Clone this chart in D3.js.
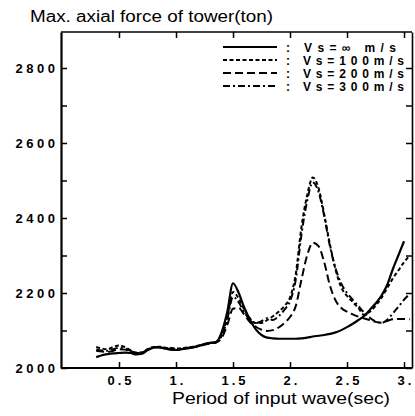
<!DOCTYPE html>
<html>
<head>
<meta charset="utf-8">
<script src="https://cdn.jsdelivr.net/npm/d3@7"></script>
<style>
  body { margin: 0; background: #fff; }
  svg { display: block; font-family: "Liberation Sans", Arial, sans-serif; }
</style>
</head>
<body>
<svg id="viz_area" width="415" height="416"></svg>
<script>
// period of input wave (sec)
const periods = [0.3,0.35,0.4,0.45,0.5,0.55,0.6,0.65,0.7,0.75,0.8,0.85,0.9,0.95,1.0,1.05,1.1,1.15,1.2,1.25,1.3,1.35,1.4,1.45,1.5,1.55,1.6,1.65,1.7,1.75,1.8,1.85,1.9,1.95,2.0,2.05,2.1,2.15,2.2,2.25,2.3,2.35,2.4,2.45,2.5,2.55,2.6,2.65,2.7,2.75,2.8,2.85,2.9,2.95,3.0,3.05];

// max axial force (ton) for each Vs
const vsInf = [2029,2034,2037,2039,2040,2041,2040,2036,2038,2047,2054,2056,2052,2049,2048,2050,2052,2055,2059,2064,2067,2069,2095,2150,2226,2200,2160,2128,2103,2088,2081,2079,2078,2078,2078,2078,2079,2081,2084,2086,2088,2091,2095,2101,2109,2118,2128,2139,2155,2172,2192,2220,2262,2300,2338,null];
const vs100 = [2056,2052,2050,2056,2060,2056,2048,2041,2042,2050,2056,2055,2053,2054,2052,2053,2055,2057,2060,2064,2067,2069,2088,2135,2203,2185,2155,2132,2120,2120,2128,2138,2150,2165,2188,2250,2375,2460,2508,2480,2410,2330,2262,2215,2192,2176,2160,2142,2150,2166,2186,2212,2238,2260,2282,2300];
const vs200 = [2046,2044,2043,2046,2050,2049,2044,2040,2041,2049,2055,2055,2052,2050,2049,2051,2053,2055,2058,2062,2066,2068,2080,2115,2158,2160,2142,2122,2110,2102,2099,2101,2108,2120,2136,2165,2235,2300,2334,2325,2282,2220,2180,2160,2150,2143,2137,2132,2128,2123,2121,2125,2130,2131,2131,2130];
const vs300 = [2049,2047,2046,2050,2054,2052,2046,2041,2040,2048,2055,2057,2055,2052,2050,2051,2054,2056,2059,2063,2066,2068,2085,2130,2190,2175,2148,2128,2120,2125,2133,2128,2138,2155,2178,2235,2355,2445,2495,2470,2405,2325,2265,2225,2200,2182,2165,2148,2134,2124,2120,2128,2145,2163,2182,2198];

const legendLabels = [": Vs=\u221e m/s", ": Vs=100m/s", ": Vs=200m/s", ": Vs=300m/s"];
const xTicks = [0.5, 1, 1.5, 2, 2.5, 3];
const xTickLabels = ["0.5", "1.", "1.5", "2.", "2.5", "3."];
const yTicks = [2000,2100,2200,2300,2400,2500,2600,2700,2800];

const series = [
  {values: vsInf, dash: null, width: 2.2},
  {values: vs100, dash: "4,2.5", width: 2},
  {values: vs200, dash: "8,4", width: 2},
  {values: vs300, dash: "7,3,2,3", width: 2}
];

const svg = d3.select("#viz_area");
svg.append("rect").attr("width", 415).attr("height", 416).attr("fill", "#fff");

const frameL = 61, frameR = 412, frameT = 32, frameB = 368;
const x = d3.scaleLinear().domain([0, 3.07]).range([62, frameR]);
const y = d3.scaleLinear().domain([2000, 2896]).range([frameB, frameT]);

// frame + ticks (all pointing inward)
const gl = svg.append("g").attr("transform", "translate(" + frameL + ",0)")
  .call(d3.axisLeft(y).tickValues(yTicks).tickSize(-6).tickSizeOuter(0).tickPadding(6)
    .tickFormat(d => d % 200 === 0 ? d : ""));
gl.select(".domain").attr("stroke-width", 2.2);
gl.selectAll(".tick line").attr("stroke-width", 1.5);
gl.selectAll("text").attr("font-size", 13).attr("font-weight", "bold")
  .attr("letter-spacing", "3.5px").attr("fill", "#000").attr("dx", "3.5px");

const gr = svg.append("g").attr("transform", "translate(" + frameR + ",0)")
  .call(d3.axisRight(y).tickValues(yTicks).tickSize(-6).tickSizeOuter(0).tickFormat(""));
gr.select(".domain").attr("stroke-width", 1.6);
gr.selectAll(".tick line").attr("stroke-width", 1.5);

const gt = svg.append("g").attr("transform", "translate(0," + frameT + ")")
  .call(d3.axisTop(x).tickValues(xTicks).tickSize(-6).tickSizeOuter(0).tickFormat(""));
gt.select(".domain").attr("stroke-width", 1.6).attr("d", "M" + frameL + ",0H" + frameR);
gt.selectAll(".tick line").attr("stroke-width", 1.5);

const gb = svg.append("g").attr("transform", "translate(0," + frameB + ")")
  .call(d3.axisBottom(x).tickValues(xTicks).tickSize(-6).tickSizeOuter(0).tickPadding(8)
    .tickFormat((d, i) => xTickLabels[i]));
gb.select(".domain").attr("stroke-width", 2.2).attr("d", "M" + frameL + ",0H" + frameR);
gb.selectAll(".tick line").attr("stroke-width", 1.5);
gb.selectAll("text").attr("font-size", 13).attr("font-weight", "bold")
  .attr("letter-spacing", "3px").attr("fill", "#000").attr("dx", "1.5px");

// curves
const line = d3.line()
  .defined(d => d[1] !== null)
  .x(d => x(d[0]))
  .y(d => y(d[1]))
  .curve(d3.curveMonotoneX);

series.forEach(s => {
  svg.append("path")
    .datum(periods.map((p, i) => [p, s.values[i]]))
    .attr("fill", "none")
    .attr("stroke", "#000")
    .attr("stroke-width", s.width)
    .attr("stroke-dasharray", s.dash)
    .attr("d", line);
});

// legend
const legendRows = [47, 60, 73, 86];
series.forEach((s, i) => {
  svg.append("line")
    .attr("x1", 223).attr("x2", 277)
    .attr("y1", legendRows[i]).attr("y2", legendRows[i])
    .attr("stroke", "#000").attr("stroke-width", s.width)
    .attr("stroke-dasharray", s.dash);
  svg.append("text")
    .attr("x", 286).attr("y", legendRows[i] + 4.5)
    .attr("font-size", 12).attr("font-weight", "bold")
    .attr("textLength", i === 0 ? 110 : 118).attr("lengthAdjust", "spacing")
    .text(legendLabels[i]);
});

// titles
svg.append("text")
  .attr("x", 30).attr("y", 22)
  .attr("font-size", 16)
  .attr("textLength", 243).attr("lengthAdjust", "spacingAndGlyphs")
  .text("Max. axial force of tower(ton)");

svg.append("text")
  .attr("x", 172).attr("y", 404)
  .attr("font-size", 16)
  .attr("textLength", 218).attr("lengthAdjust", "spacingAndGlyphs")
  .text("Period of input wave(sec)");
</script>
</body>
</html>
